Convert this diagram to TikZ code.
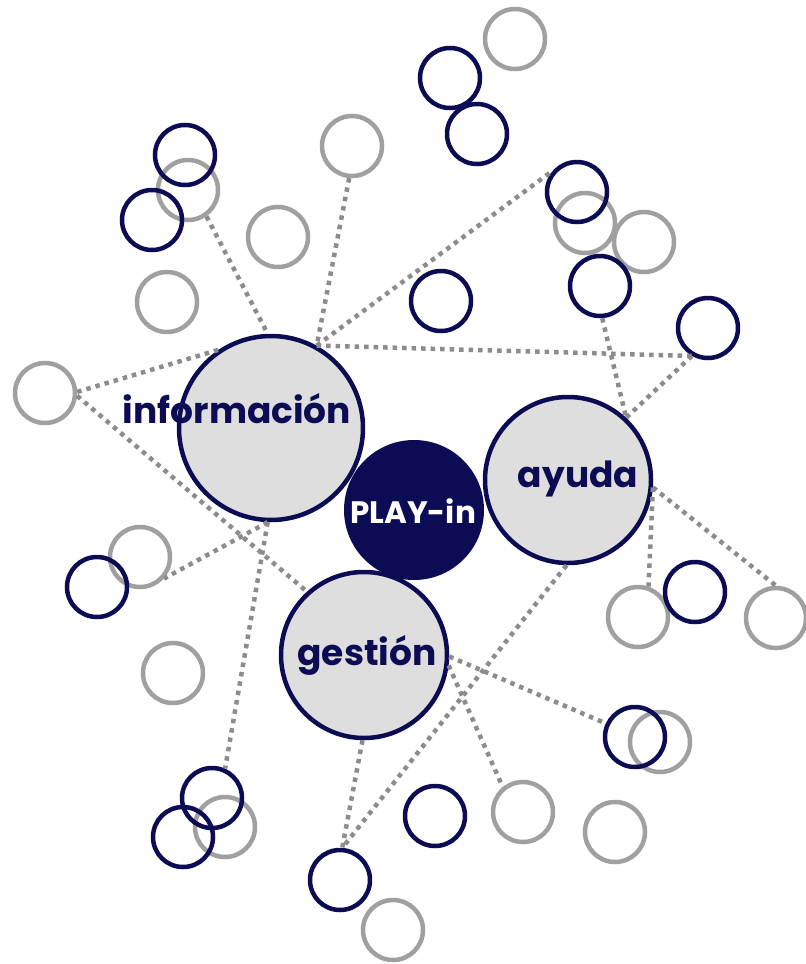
\documentclass[tikz,border=0pt]{standalone}
\usepackage{fontspec}
\newfontfamily\gothic{Poppins}
\definecolor{playnavy}{RGB}{12,12,84}
\definecolor{ringgray}{RGB}{160,160,160}
\definecolor{dotgray}{RGB}{140,140,140}
\definecolor{hubfill}{RGB}{222,222,222}
\tikzset{
  navyring/.style={circle,draw=playnavy,line width=4.5pt,minimum size=60pt,inner sep=0pt},
  grayring/.style={circle,draw=ringgray,line width=4.5pt,minimum size=60pt,inner sep=0pt},
  hub/.style={circle,draw=playnavy,fill=hubfill,line width=4.5pt,inner sep=0pt},
  link/.style={draw=dotgray,line width=4.5pt,dash pattern=on 4.5pt off 5pt},
  hublabel/.style={text=playnavy,font=\gothic\bfseries\fontsize{36}{36}\selectfont,anchor=base,inner sep=0pt}
}
\begin{document}
\begin{tikzpicture}[x=1pt,y=-1pt]
\useasboundingbox (0,0) rectangle (806,964);
% centre
\node[circle,fill=playnavy,minimum size=140pt,inner sep=0pt] (play) at (414,510) {};
\node[hub,minimum size=184pt] (info) at (271,428) {};
\node[hub,minimum size=166pt] (ayuda) at (568,480) {};
\node[hub,minimum size=166pt] (gest) at (364,655) {};
% small rings
\foreach \n/\x/\y in {g1/188/190,g2/352/146,g3/278/237,g4/167/302,g5/515/39,g6/585/223,g7/644/242,g8/45/393,g9/140/557,g10/638/617,g11/776/618,g12/173/673,g13/225/827,g14/393/930,g15/660/742,g16/523/812,g17/615/832}
  \node[grayring] (\n) at (\x,\y) {};
\foreach \n/\x/\y in {n1/185/155,n2/152/220,n3/450/78,n4/477/134,n5/577/192,n6/600/286,n7/441/301,n8/708/328,n9/97/587,n10/695/592,n11/212/798,n12/183/837,n13/340/880,n14/635/737,n15/435/816}
  \node[navyring] (\n) at (\x,\y) {};
% links
\draw[link] (g1.-55) -- (info.92);
\draw[link] (g2.-95) -- (info.61);
\draw[link] (info.61) -- (n5.138);
\draw[link] (info.61) -- (n8.240);
\draw[link] (n6.-86) -- (ayuda.47);
\draw[link] (n8.240) -- (ayuda.47);
\draw[link] (g8.2) -- (info.124);
\draw[link] (g8.-5) -- (gest.132);
\draw[link] (info.268) -- (g9.-42);
\draw[link] (info.268) -- (n11.66);
\draw[link] (ayuda.269) -- (n13.86);
\draw[link] (gest.-91) -- (n13.86);
\draw[link] (gest.-1) -- (n14.155);
\draw[link] (gest.-7) -- (g16.129);
\draw[link] (ayuda.-5) -- (g10.71);
\draw[link] (ayuda.-5) -- (g11.north);
% labels
\node[hublabel] (infotext) at (237,423) {información};
\node[hublabel] (ayudatext) at (578,487) {ayuda};
\node[hublabel] (gesttext) at (367,665) {gestión};
\node[anchor=base,inner sep=0pt,text=white,font=\gothic\bfseries\fontsize{31}{31}\selectfont] (playtext) at (413,523) {PLAY-in};
\end{tikzpicture}
\end{document}
